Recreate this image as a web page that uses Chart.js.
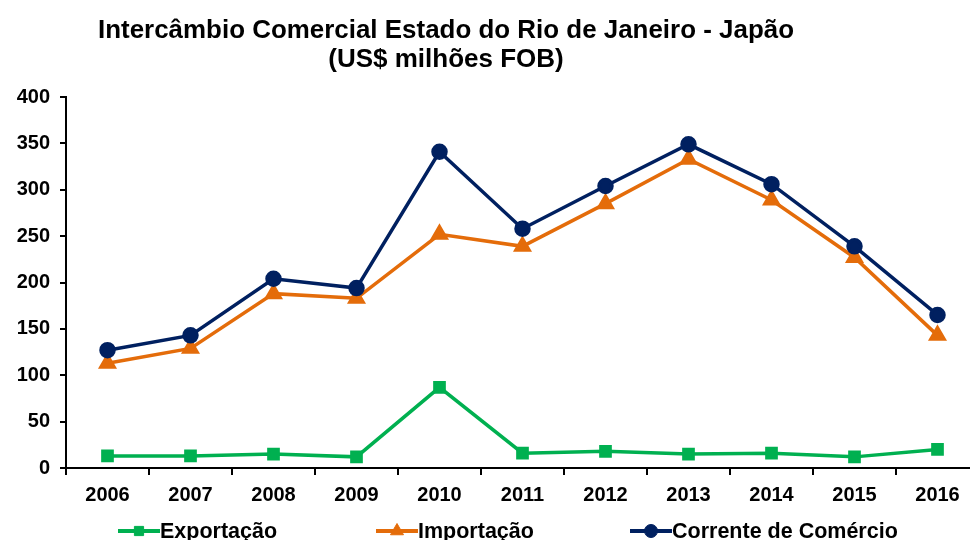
<!DOCTYPE html>
<html>
<head>
<meta charset="utf-8">
<script src="https://cdn.jsdelivr.net/npm/chart.js@4.4.1/dist/chart.umd.min.js"></script>
<style>
  html, body { margin: 0; padding: 0; background: #fff; overflow: hidden; }
  #wrap { width: 990px; height: 540px; }
</style>
</head>
<body>
<div id="wrap"><canvas id="chartRJ" width="990" height="540"></canvas></div>
<script>
var anos = ["2006", "2007", "2008", "2009", "2010", "2011", "2012", "2013", "2014", "2015", "2016"];
var exportacao = [13, 13, 15, 12, 87, 16, 18, 15, 16, 12, 20];
var importacao = [113, 129, 188, 183, 252, 239, 285, 333, 289, 227, 143];
var corrente = [127, 143, 204, 194, 341, 258, 304, 349, 306, 239, 165];
var titulo = ["Intercâmbio Comercial Estado do Rio de Janeiro - Japão", "(US$ milhões FOB)"];

// titulo desenhado a mao, centrado como no original
var titlePlugin = {
	id: 'tituloRJ',
	afterDraw: function(chart){
		var ctx = chart.ctx;
		ctx.save();
		ctx.fillStyle = '#000';
		ctx.font = 'bold 26px "Liberation Sans", Arial, sans-serif';
		ctx.textAlign = 'center';
		ctx.textBaseline = 'middle';
		ctx.fillText(titulo[0], 446, 31, 696);
		ctx.fillText(titulo[1], 446, 60, 238);
		ctx.restore();
	}
};

// legenda com linha + marcador, como no excel
var legendPlugin = {
	id: 'legendaRJ',
	afterDraw: function(chart){
		var ctx = chart.ctx;
		var xs = [118, 376, 630];
		var y = 531;
		ctx.save();
		chart.data.datasets.forEach(function(ds, i){
			var x = xs[i];
			ctx.strokeStyle = ds.borderColor;
			ctx.fillStyle = ds.pointBackgroundColor;
			ctx.lineWidth = 4;
			ctx.beginPath();
			ctx.moveTo(x, y);
			ctx.lineTo(x + 42, y);
			ctx.stroke();
			ctx.lineWidth = 1;
			Chart.helpers.drawPoint(ctx, {
				pointStyle: ds.pointStyle,
				radius: ds.pointRadius,
				borderWidth: 1
			}, x + 21, y);
			ctx.fillStyle = '#000';
			ctx.font = 'bold 21.5px "Liberation Sans", Arial, sans-serif';
			ctx.textAlign = 'left';
			ctx.textBaseline = 'middle';
			ctx.fillText(ds.label, x + 42, y + 1);
		});
		ctx.restore();
	}
};

function init_chart_rj_japao(){

	if( typeof (Chart) === 'undefined'){ return; }

	var chart_line_settings = {
		type: 'line',
		data: {
			labels: anos,
			datasets: [{
				label: "Exportação",
				data: exportacao,
				borderColor: "#00B050",
				backgroundColor: "#00B050",
				pointBackgroundColor: "#00B050",
				pointBorderColor: "#00B050",
				pointStyle: 'rect',
				pointRadius: 6.5,
				borderWidth: 3.5,
				order: 3
			}, {
				label: "Importação",
				data: importacao,
				borderColor: "#E46C0A",
				backgroundColor: "#E46C0A",
				pointBackgroundColor: "#E46C0A",
				pointBorderColor: "#E46C0A",
				pointStyle: 'triangle',
				pointRadius: 7.5,
				borderWidth: 3.5,
				order: 2
			}, {
				label: "Corrente de Comércio",
				data: corrente,
				borderColor: "#002060",
				backgroundColor: "#002060",
				pointBackgroundColor: "#002060",
				pointBorderColor: "#002060",
				pointStyle: 'circle',
				pointRadius: 6.5,
				borderWidth: 3.5,
				order: 1
			}]
		},
		options: {
			responsive: false,
			animation: false,
			layout: { padding: { top: 97, right: 3, left: 0, bottom: 0 } },
			plugins: {
				legend: { display: false },
				title: { display: false },
				tooltip: { enabled: false }
			},
			scales: {
				x: {
					offset: true,
					border: { color: '#000', width: 2 },
					grid: { drawOnChartArea: false, drawTicks: true, tickLength: 7, color: '#000', lineWidth: 2, offset: true },
					ticks: {
						color: '#000',
						padding: 8,
						maxRotation: 0,
						font: { family: '"Liberation Sans", Arial, sans-serif', size: 20, weight: 'bold' }
					},
					afterFit: function(scale){ scale.height = 72; }
				},
				y: {
					min: 0,
					max: 400,
					border: { color: '#000', width: 2 },
					grid: { drawOnChartArea: false, drawTicks: true, tickLength: 6, color: '#000', lineWidth: 2 },
					ticks: {
						stepSize: 50,
						color: '#000',
						padding: 10,
						font: { family: '"Liberation Sans", Arial, sans-serif', size: 20, weight: 'bold' }
					},
					afterFit: function(scale){ scale.width = 66; }
				}
			}
		},
		plugins: [titlePlugin, legendPlugin]
	};

	var chart_element = document.getElementById('chartRJ');
	var chart_line = new Chart(chart_element, chart_line_settings);
}

init_chart_rj_japao();
</script>
</body>
</html>
